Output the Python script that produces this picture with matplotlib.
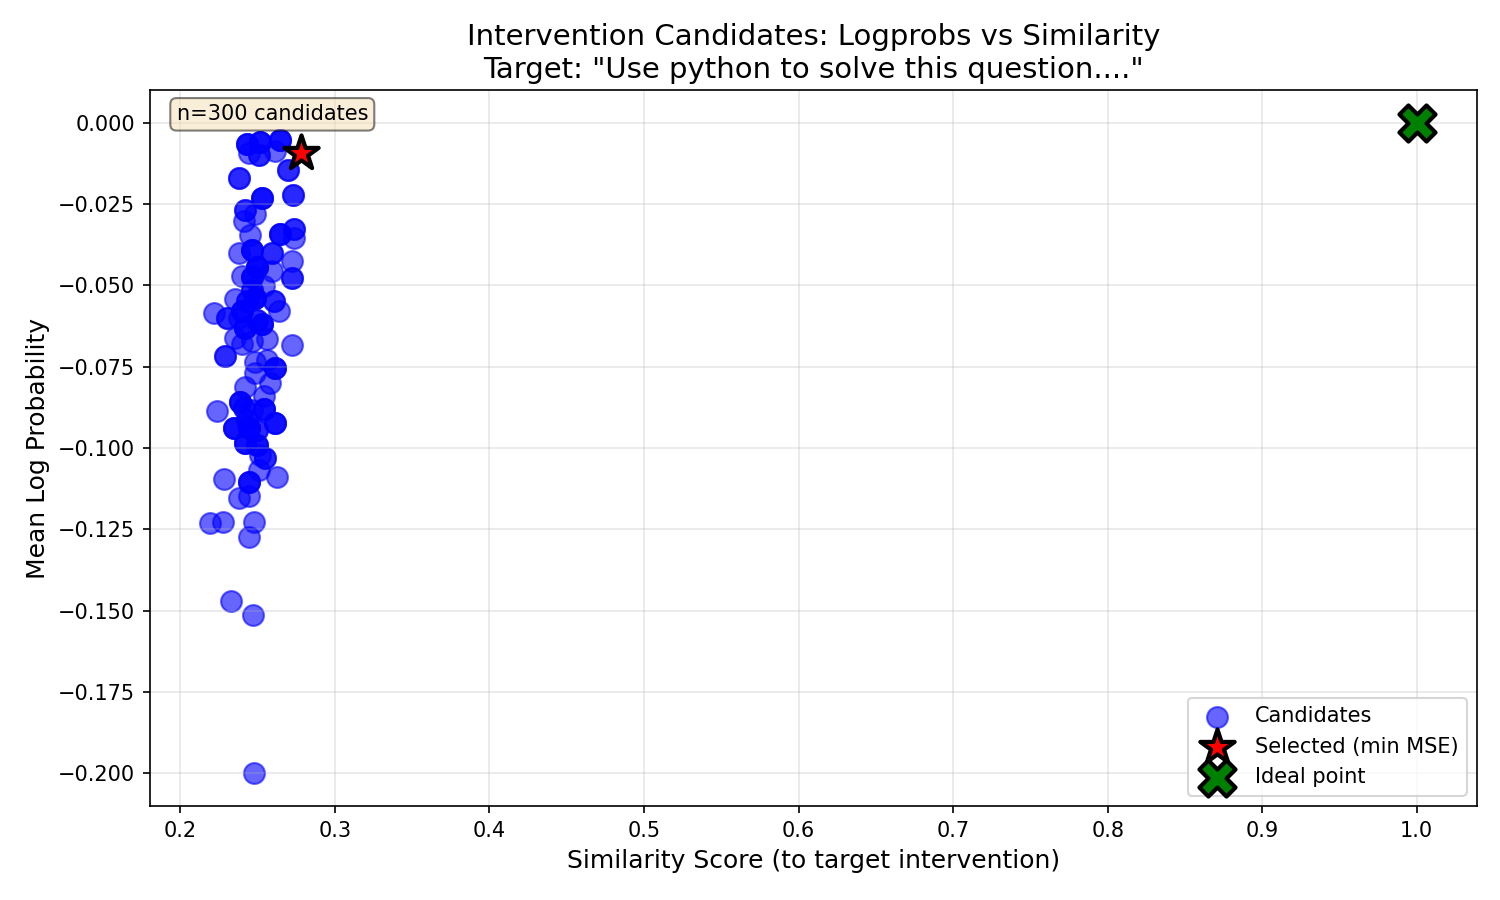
import numpy as np
import matplotlib
matplotlib.use("Agg")
import matplotlib.pyplot as plt

# Candidate points (similarity, mean logprob, multiplicity of overlapping candidates)
sim = [0.2433, 0.2517, 0.2511, 0.2446, 0.2646, 0.2614, 0.2698, 0.2381, 0.2530, 0.2730,
       0.2420, 0.2485, 0.2414, 0.2646, 0.2737, 0.2737, 0.2452, 0.2381, 0.2465, 0.2595,
       0.2724, 0.2498, 0.2401, 0.2465, 0.2595, 0.2724, 0.2485, 0.2607, 0.2640, 0.2355,
       0.2220, 0.2304, 0.2401, 0.2420, 0.2530, 0.2562, 0.2355, 0.2401, 0.2291, 0.2724,
       0.2485, 0.2562, 0.2614, 0.2485, 0.2582, 0.2420, 0.2543, 0.2239, 0.2388, 0.2414,
       0.2543, 0.2614, 0.2349, 0.2446, 0.2420, 0.2498, 0.2549, 0.2511, 0.2627, 0.2284,
       0.2446, 0.2381, 0.2446, 0.2194, 0.2278, 0.2478, 0.2446, 0.2330, 0.2472, 0.2478,
       0.2465, 0.2543, 0.2433, 0.2498, 0.2381, 0.2465, 0.2433, 0.2498, 0.2465, 0.2517]
logprob = [-0.0065, -0.0061, -0.0101, -0.0095, -0.0055, -0.0086, -0.0147, -0.0169, -0.0233, -0.0224,
           -0.0270, -0.0280, -0.0301, -0.0341, -0.0326, -0.0356, -0.0347, -0.0402, -0.0393, -0.0402,
           -0.0424, -0.0445, -0.0470, -0.0476, -0.0455, -0.0479, -0.0538, -0.0547, -0.0578, -0.0541,
           -0.0584, -0.0599, -0.0578, -0.0630, -0.0618, -0.0664, -0.0661, -0.0679, -0.0716, -0.0685,
           -0.0737, -0.0731, -0.0753, -0.0771, -0.0799, -0.0814, -0.0839, -0.0885, -0.0860, -0.0876,
           -0.0879, -0.0922, -0.0940, -0.0937, -0.0986, -0.0992, -0.1032, -0.1069, -0.1088, -0.1094,
           -0.1103, -0.1155, -0.1146, -0.1229, -0.1226, -0.1226, -0.1272, -0.1469, -0.1512, -0.2000,
           -0.0516, -0.0501, -0.0547, -0.0608, -0.0602, -0.0670, -0.0915, -0.0945, -0.0884, -0.1022]
count = [3, 3, 2, 1, 3, 1, 2, 2, 3, 2,
         2, 1, 1, 3, 2, 1, 1, 1, 3, 2,
         1, 4, 1, 3, 1, 2, 4, 2, 1, 1,
         1, 2, 3, 3, 3, 1, 1, 1, 2, 1,
         1, 1, 3, 1, 1, 1, 1, 1, 3, 2,
         3, 3, 3, 3, 3, 3, 2, 1, 1, 1,
         3, 1, 1, 1, 1, 1, 1, 1, 1, 1,
         2, 1, 2, 2, 1, 1, 2, 2, 1, 1]

selected_sim = [0.2782]
selected_logprob = [-0.0095]
ideal_sim = [1.0]
ideal_logprob = [0.0]
n_candidates = 300
target_text = "Use python to solve this question...."

xs = np.repeat(sim, count)
ys = np.repeat(logprob, count)

fig, ax = plt.subplots(figsize=(10, 6), dpi=150)
ax.scatter(xs, ys, s=100, c='blue', alpha=0.6, label='Candidates')
ax.scatter(selected_sim, selected_logprob, s=300, c='red', marker='*',
           edgecolors='black', linewidths=2, label='Selected (min MSE)', zorder=5)
ax.scatter(ideal_sim, ideal_logprob, s=300, c='green', marker='X',
           edgecolors='black', linewidths=2, label='Ideal point', zorder=5)

ax.set_xlabel('Similarity Score (to target intervention)', fontsize=12)
ax.set_ylabel('Mean Log Probability', fontsize=12)
ax.set_title('Intervention Candidates: Logprobs vs Similarity\nTarget: "%s"' % target_text, fontsize=14)
ax.grid(True, alpha=0.3)
ax.legend(loc='lower right')
ax.text(0.02, 0.98, 'n=%d candidates' % n_candidates, transform=ax.transAxes,
        va='top', fontsize=10, bbox=dict(boxstyle='round', facecolor='wheat', alpha=0.5))

fig.subplots_adjust(left=0.1, right=0.9847, top=0.9, bottom=0.1044)
fig.savefig('out.png', dpi=150)
